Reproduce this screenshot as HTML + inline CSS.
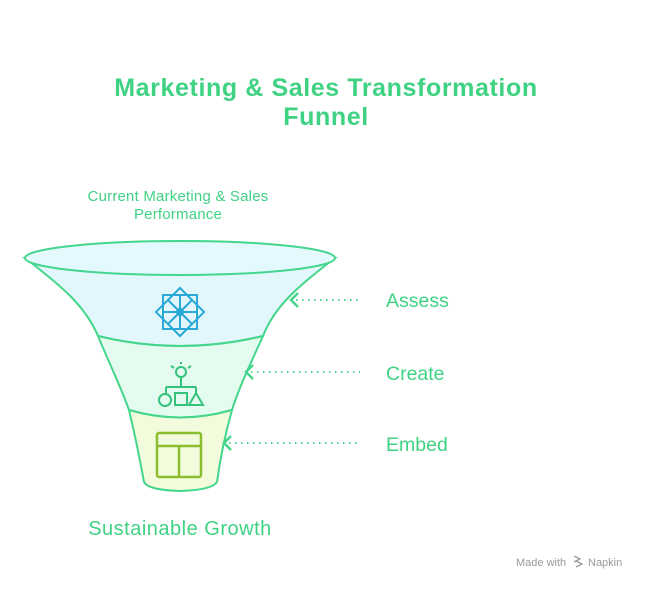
<!DOCTYPE html>
<html><head><meta charset="utf-8"><style>
body{margin:0;background:#fff;width:648px;height:588px;overflow:hidden;font-family:"Liberation Sans",sans-serif}
</style></head><body>
<svg width="648" height="588" viewBox="0 0 648 588" xmlns="http://www.w3.org/2000/svg" font-family="Liberation Sans, sans-serif">
<text x="326" y="96" text-anchor="middle" font-size="25" font-weight="bold" letter-spacing="0.6" fill="#3fd283">Marketing &amp; Sales Transformation</text>
<text x="326" y="125" text-anchor="middle" font-size="25" font-weight="bold" letter-spacing="0.6" fill="#3fd283">Funnel</text>
<text x="178" y="201" text-anchor="middle" font-size="15" letter-spacing="0.2" fill="#3fd283">Current Marketing &amp; Sales</text>
<text x="178" y="219" text-anchor="middle" font-size="15" letter-spacing="0.2" fill="#3fd283">Performance</text>
<path d="M25,258 C60,285 85,305 98,336 Q180,356 263,336 C275,305 300,285 335,258 Z" fill="#e2f7fc" stroke="#44d68c" stroke-width="2"/>
<path d="M98,336 Q180,356 263,336 C250,365 240,385 232,410 Q180,425 129,410 C120,385 110,365 98,336 Z" fill="#e4fbef" stroke="#44d68c" stroke-width="2"/>
<path d="M129,410 Q180,425 232,410 C225,435 220,460 217,482 Q212,490 180,491 Q148,490 144,482 C140,460 135,435 129,410 Z" fill="#f2fcdc" stroke="#44d68c" stroke-width="2"/>
<ellipse cx="180" cy="258" rx="155" ry="17" fill="#e4f9fd" stroke="#44d68c" stroke-width="2"/>
<g transform="translate(180,312)" fill="none" stroke="#2aa8d8" stroke-width="2">
<rect x="-17" y="-17" width="34" height="34"/>
<rect x="-17" y="-17" width="34" height="34" transform="rotate(45)"/>
<line x1="-17" y1="0" x2="17" y2="0"/><line x1="0" y1="-17" x2="0" y2="17"/>
<line x1="-12" y1="-12" x2="12" y2="12"/><line x1="-12" y1="12" x2="12" y2="-12"/>
<circle r="3"/>
</g>
<g fill="none" stroke="#35c27a" stroke-width="2">
<circle cx="181" cy="372" r="5"/>
<line x1="181" y1="377" x2="181" y2="387"/>
<line x1="166" y1="387" x2="196" y2="387"/><line x1="166" y1="387" x2="166" y2="394"/><line x1="196" y1="387" x2="196" y2="394"/>
<circle cx="165" cy="400" r="6"/>
<rect x="175" y="393" width="12" height="12"/>
<path d="M196,393 L203,405 L189,405 Z"/>
<line x1="171" y1="366" x2="174" y2="368"/><line x1="191" y1="366" x2="188" y2="368"/><line x1="181" y1="362" x2="181" y2="364"/>
</g>
<g fill="none" stroke="#8cbd2f" stroke-width="2.5">
<rect x="157" y="433" width="44" height="44" rx="2"/>
<line x1="157" y1="446" x2="201" y2="446"/><line x1="179" y1="446" x2="179" y2="477"/>
</g>
<g stroke="#44d68c" stroke-width="2.5" fill="none">
<path d="M298,293 L291,300 L298,307"/>
<path d="M253,365 L246,372 L253,379"/>
<path d="M231,436 L224,443 L231,450"/>
</g>
<g stroke="#44d68c" stroke-width="2" stroke-dasharray="1.5 4.5" fill="none">
<line x1="296" y1="300" x2="360" y2="300"/>
<line x1="251" y1="372" x2="360" y2="372"/>
<line x1="229" y1="443" x2="360" y2="443"/>
</g>
<text x="386" y="307" font-size="19.5" fill="#3fd283">Assess</text>
<text x="386" y="380" font-size="19.5" fill="#3fd283">Create</text>
<text x="386" y="451" font-size="19.5" fill="#3fd283">Embed</text>
<text x="180" y="535" text-anchor="middle" font-size="20" letter-spacing="0.5" fill="#3fd283">Sustainable Growth</text>
<text x="516" y="566" font-size="11" fill="#9a9a9a">Made with</text>
<g stroke="#9a9a9a" stroke-width="1.3" fill="none"><path d="M574,556 l6,3 l-6,3 M576,561 l6,3 l-6,3"/></g>
<text x="588" y="566" font-size="11" fill="#9a9a9a">Napkin</text>
</svg>
</body></html>
